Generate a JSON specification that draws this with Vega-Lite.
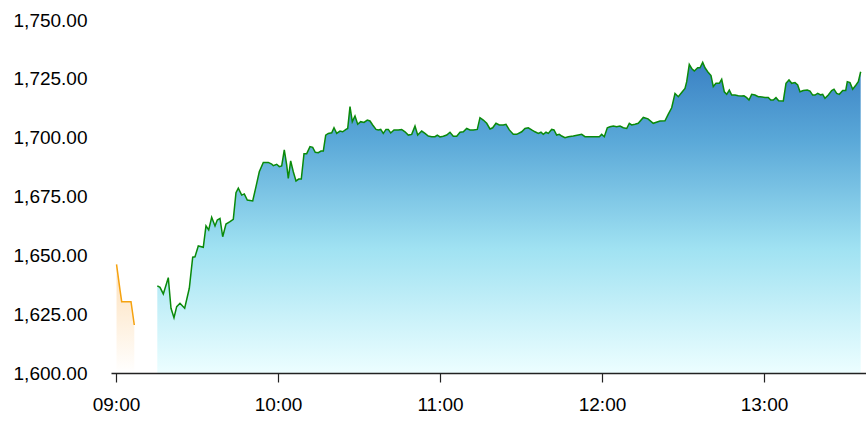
{
  "$schema": "https://vega.github.io/schema/vega-lite/v6.json",
  "width": 755,
  "height": 353,
  "autosize": {"type": "none"},
  "padding": {"left": 111, "top": 20, "right": 0, "bottom": 64},
  "background": "white",
  "config": {
    "view": {"stroke": null},
    "axis": {"labelFont": "Liberation Sans", "labelFontSize": 19, "labelColor": "#000", "grid": false}
  },
  "datasets": {
    "pre": [
      {"m": 0.2, "v": 1646.2},
      {"m": 1.48, "v": 1635.3},
      {"m": 2.11, "v": 1630.3},
      {"m": 5.56, "v": 1630.3},
      {"m": 6.78, "v": 1620.4}
    ],
    "main": [
      {"m": 15.30, "v": 1637.0}, {"m": 16.30, "v": 1636.4}, {"m": 17.52, "v": 1633.6}, {"m": 19.37, "v": 1640.5},
      {"m": 20.37, "v": 1627.5}, {"m": 21.48, "v": 1623.5}, {"m": 22.48, "v": 1628.2}, {"m": 23.70, "v": 1629.6},
      {"m": 25.44, "v": 1627.5}, {"m": 27.15, "v": 1636.0}, {"m": 28.41, "v": 1649.2}, {"m": 29.26, "v": 1649.4},
      {"m": 30.48, "v": 1654.0}, {"m": 32.33, "v": 1653.4}, {"m": 33.33, "v": 1662.5}, {"m": 34.33, "v": 1660.8},
      {"m": 35.44, "v": 1666.2}, {"m": 36.67, "v": 1662.5}, {"m": 37.52, "v": 1665.0}, {"m": 38.52, "v": 1665.7},
      {"m": 39.52, "v": 1657.9}, {"m": 40.74, "v": 1663.3}, {"m": 42.22, "v": 1664.3}, {"m": 43.44, "v": 1665.3},
      {"m": 44.44, "v": 1676.6}, {"m": 45.30, "v": 1678.5}, {"m": 46.56, "v": 1675.6}, {"m": 47.52, "v": 1676.1},
      {"m": 48.63, "v": 1673.5}, {"m": 50.63, "v": 1673.1}, {"m": 51.85, "v": 1679.2}, {"m": 53.07, "v": 1685.5},
      {"m": 54.56, "v": 1689.5}, {"m": 56.41, "v": 1689.5}, {"m": 57.67, "v": 1688.8}, {"m": 58.26, "v": 1688.1},
      {"m": 59.52, "v": 1688.7}, {"m": 60.48, "v": 1687.7}, {"m": 61.37, "v": 1688.0}, {"m": 62.33, "v": 1694.8},
      {"m": 63.22, "v": 1688.4}, {"m": 63.81, "v": 1682.7}, {"m": 64.70, "v": 1690.1}, {"m": 65.67, "v": 1685.5},
      {"m": 66.67, "v": 1681.6}, {"m": 67.67, "v": 1682.4}, {"m": 68.63, "v": 1682.4}, {"m": 69.63, "v": 1693.2},
      {"m": 70.63, "v": 1693.2}, {"m": 71.85, "v": 1696.2}, {"m": 72.85, "v": 1695.9}, {"m": 73.81, "v": 1693.8},
      {"m": 74.93, "v": 1693.6}, {"m": 75.93, "v": 1694.3}, {"m": 76.78, "v": 1694.3}, {"m": 77.67, "v": 1701.1},
      {"m": 78.63, "v": 1701.8}, {"m": 79.89, "v": 1702.1}, {"m": 80.74, "v": 1704.2}, {"m": 81.74, "v": 1701.8},
      {"m": 82.96, "v": 1702.8}, {"m": 83.96, "v": 1702.5}, {"m": 85.19, "v": 1703.5}, {"m": 85.81, "v": 1703.9},
      {"m": 86.67, "v": 1713.2}, {"m": 87.52, "v": 1706.8}, {"m": 88.52, "v": 1709.2}, {"m": 89.52, "v": 1705.7},
      {"m": 90.63, "v": 1706.8}, {"m": 91.85, "v": 1706.5}, {"m": 93.07, "v": 1707.5}, {"m": 94.07, "v": 1707.1},
      {"m": 95.07, "v": 1705.4}, {"m": 96.30, "v": 1703.5}, {"m": 97.15, "v": 1703.3}, {"m": 98.04, "v": 1703.5},
      {"m": 99.00, "v": 1701.8}, {"m": 100.00, "v": 1703.5}, {"m": 100.85, "v": 1703.5}, {"m": 101.74, "v": 1702.0},
      {"m": 102.96, "v": 1703.3}, {"m": 104.56, "v": 1703.3}, {"m": 105.81, "v": 1703.5}, {"m": 107.04, "v": 1702.5},
      {"m": 108.26, "v": 1701.1}, {"m": 109.52, "v": 1701.4}, {"m": 110.74, "v": 1704.9}, {"m": 111.74, "v": 1701.1},
      {"m": 113.22, "v": 1702.8}, {"m": 114.44, "v": 1701.8}, {"m": 115.67, "v": 1700.7}, {"m": 116.93, "v": 1700.4},
      {"m": 118.15, "v": 1700.4}, {"m": 119.00, "v": 1701.1}, {"m": 120.00, "v": 1700.3}, {"m": 121.22, "v": 1700.6},
      {"m": 122.48, "v": 1701.1}, {"m": 123.70, "v": 1702.3}, {"m": 124.93, "v": 1700.6}, {"m": 126.19, "v": 1700.6},
      {"m": 127.41, "v": 1702.3}, {"m": 128.63, "v": 1702.5}, {"m": 129.89, "v": 1703.9}, {"m": 131.11, "v": 1703.3},
      {"m": 132.33, "v": 1703.3}, {"m": 133.81, "v": 1703.5}, {"m": 134.81, "v": 1708.5}, {"m": 136.04, "v": 1707.5},
      {"m": 137.30, "v": 1706.1}, {"m": 138.52, "v": 1703.7}, {"m": 139.52, "v": 1704.2}, {"m": 140.74, "v": 1706.1},
      {"m": 141.96, "v": 1705.4}, {"m": 143.44, "v": 1705.4}, {"m": 144.44, "v": 1705.7}, {"m": 145.67, "v": 1703.3},
      {"m": 147.15, "v": 1701.4}, {"m": 148.41, "v": 1701.4}, {"m": 150.26, "v": 1702.5}, {"m": 151.48, "v": 1703.9},
      {"m": 152.70, "v": 1704.2}, {"m": 153.96, "v": 1703.3}, {"m": 155.19, "v": 1702.5}, {"m": 156.41, "v": 1701.8},
      {"m": 157.41, "v": 1702.3}, {"m": 158.26, "v": 1701.4}, {"m": 159.26, "v": 1702.3}, {"m": 160.11, "v": 1701.8},
      {"m": 161.37, "v": 1703.5}, {"m": 162.22, "v": 1703.3}, {"m": 163.22, "v": 1701.1}, {"m": 164.19, "v": 1701.4},
      {"m": 165.07, "v": 1700.7}, {"m": 166.30, "v": 1700.0}, {"m": 167.52, "v": 1700.4}, {"m": 169.37, "v": 1700.7},
      {"m": 171.22, "v": 1701.1}, {"m": 172.48, "v": 1701.4}, {"m": 173.70, "v": 1700.4}, {"m": 176.19, "v": 1700.4},
      {"m": 179.00, "v": 1700.4}, {"m": 179.89, "v": 1701.4}, {"m": 180.85, "v": 1700.4}, {"m": 181.96, "v": 1704.2},
      {"m": 182.96, "v": 1704.6}, {"m": 184.19, "v": 1704.9}, {"m": 185.44, "v": 1704.6}, {"m": 186.67, "v": 1704.9},
      {"m": 187.89, "v": 1704.2}, {"m": 189.15, "v": 1703.9}, {"m": 190.11, "v": 1706.1}, {"m": 191.00, "v": 1705.4},
      {"m": 192.22, "v": 1705.7}, {"m": 193.44, "v": 1706.1}, {"m": 195.30, "v": 1708.6}, {"m": 197.04, "v": 1708.0},
      {"m": 198.99, "v": 1706.1}, {"m": 201.48, "v": 1707.1}, {"m": 203.33, "v": 1707.2}, {"m": 204.56, "v": 1710.0},
      {"m": 205.81, "v": 1712.7}, {"m": 207.04, "v": 1718.8}, {"m": 208.26, "v": 1717.4}, {"m": 209.52, "v": 1719.2},
      {"m": 210.74, "v": 1720.9}, {"m": 211.37, "v": 1723.8}, {"m": 212.33, "v": 1731.1}, {"m": 213.22, "v": 1729.4},
      {"m": 214.19, "v": 1728.3}, {"m": 215.44, "v": 1729.7}, {"m": 216.30, "v": 1729.7}, {"m": 217.30, "v": 1732.0},
      {"m": 218.15, "v": 1729.7}, {"m": 219.15, "v": 1728.0}, {"m": 220.37, "v": 1726.4}, {"m": 221.22, "v": 1721.7},
      {"m": 222.22, "v": 1723.1}, {"m": 223.44, "v": 1723.1}, {"m": 224.33, "v": 1724.8}, {"m": 225.30, "v": 1719.5},
      {"m": 226.19, "v": 1718.4}, {"m": 227.15, "v": 1720.2}, {"m": 228.04, "v": 1718.1}, {"m": 229.26, "v": 1718.1},
      {"m": 230.48, "v": 1717.8}, {"m": 231.74, "v": 1717.7}, {"m": 232.59, "v": 1717.8}, {"m": 233.59, "v": 1717.0},
      {"m": 234.44, "v": 1716.0}, {"m": 235.44, "v": 1718.4}, {"m": 236.67, "v": 1718.1}, {"m": 237.89, "v": 1717.4},
      {"m": 238.52, "v": 1717.4}, {"m": 240.37, "v": 1717.1}, {"m": 241.59, "v": 1717.1}, {"m": 242.48, "v": 1716.0},
      {"m": 243.44, "v": 1716.0}, {"m": 244.44, "v": 1717.0}, {"m": 245.44, "v": 1715.7}, {"m": 247.15, "v": 1715.6},
      {"m": 248.15, "v": 1723.1}, {"m": 249.26, "v": 1724.5}, {"m": 250.26, "v": 1723.1}, {"m": 251.48, "v": 1723.4},
      {"m": 252.48, "v": 1722.4}, {"m": 253.33, "v": 1719.5}, {"m": 254.56, "v": 1720.0}, {"m": 256.04, "v": 1720.2},
      {"m": 257.04, "v": 1719.8}, {"m": 258.04, "v": 1718.1}, {"m": 258.89, "v": 1718.1}, {"m": 259.89, "v": 1718.8},
      {"m": 261.00, "v": 1718.2}, {"m": 261.74, "v": 1718.4}, {"m": 262.59, "v": 1716.7}, {"m": 263.81, "v": 1718.1},
      {"m": 265.07, "v": 1720.0}, {"m": 265.93, "v": 1720.6}, {"m": 266.93, "v": 1718.8}, {"m": 267.89, "v": 1718.4},
      {"m": 269.15, "v": 1720.0}, {"m": 270.26, "v": 1720.0}, {"m": 270.85, "v": 1723.8}, {"m": 271.85, "v": 1723.4},
      {"m": 272.85, "v": 1720.6}, {"m": 274.07, "v": 1722.4}, {"m": 274.93, "v": 1723.8}, {"m": 275.81, "v": 1728.0}
    ]
  },
  "encoding": {
    "x": {
      "field": "m",
      "type": "quantitative",
      "scale": {"domain": [-1.85, 277.78], "nice": false, "zero": false},
      "axis": {
        "title": null,
        "zindex": 1,
        "values": [0, 60, 120, 180, 240],
        "labelExpr": "utcFormat(utc(2000, 0, 1, 9, datum.value), '%H:%M')",
        "domainColor": "#222",
        "domainWidth": 1.5,
        "tickColor": "#222",
        "tickWidth": 1.2,
        "tickSize": 9,
        "labelPadding": 13
      }
    },
    "y": {
      "field": "v",
      "type": "quantitative",
      "scale": {"domain": [1600, 1750], "nice": false, "zero": false},
      "axis": {
        "title": null,
        "values": [1600, 1625, 1650, 1675, 1700, 1725, 1750],
        "format": ",.2f",
        "domain": false,
        "ticks": false,
        "labelPadding": 24
      }
    }
  },
  "layer": [
    {
      "data": {"name": "pre"},
      "mark": {
        "type": "area",
        "fill": {
          "gradient": "linear", "x1": 0, "y1": 0, "x2": 0, "y2": 1,
          "stops": [
            {"offset": 0, "color": "#fddfb8"},
            {"offset": 1, "color": "#ffffff"}
          ]
        }
      },
      "encoding": {"y2": {"datum": 1600}}
    },
    {
      "data": {"name": "pre"},
      "mark": {"type": "line", "color": "#f5a20f", "strokeWidth": 1.5}
    },
    {
      "data": {"name": "main"},
      "mark": {
        "type": "area",
        "fill": {
          "gradient": "linear", "x1": 0, "y1": 0, "x2": 0, "y2": 1,
          "stops": [
            {"offset": 0, "color": "#3a81c4"},
            {"offset": 0.25, "color": "#5aa8d8"},
            {"offset": 0.6, "color": "#a0e2f2"},
            {"offset": 1, "color": "#ecfeff"}
          ]
        }
      },
      "encoding": {"y2": {"datum": 1600}}
    },
    {
      "data": {"name": "main"},
      "mark": {"type": "line", "color": "#0a8a0a", "strokeWidth": 1.5}
    }
  ]
}
